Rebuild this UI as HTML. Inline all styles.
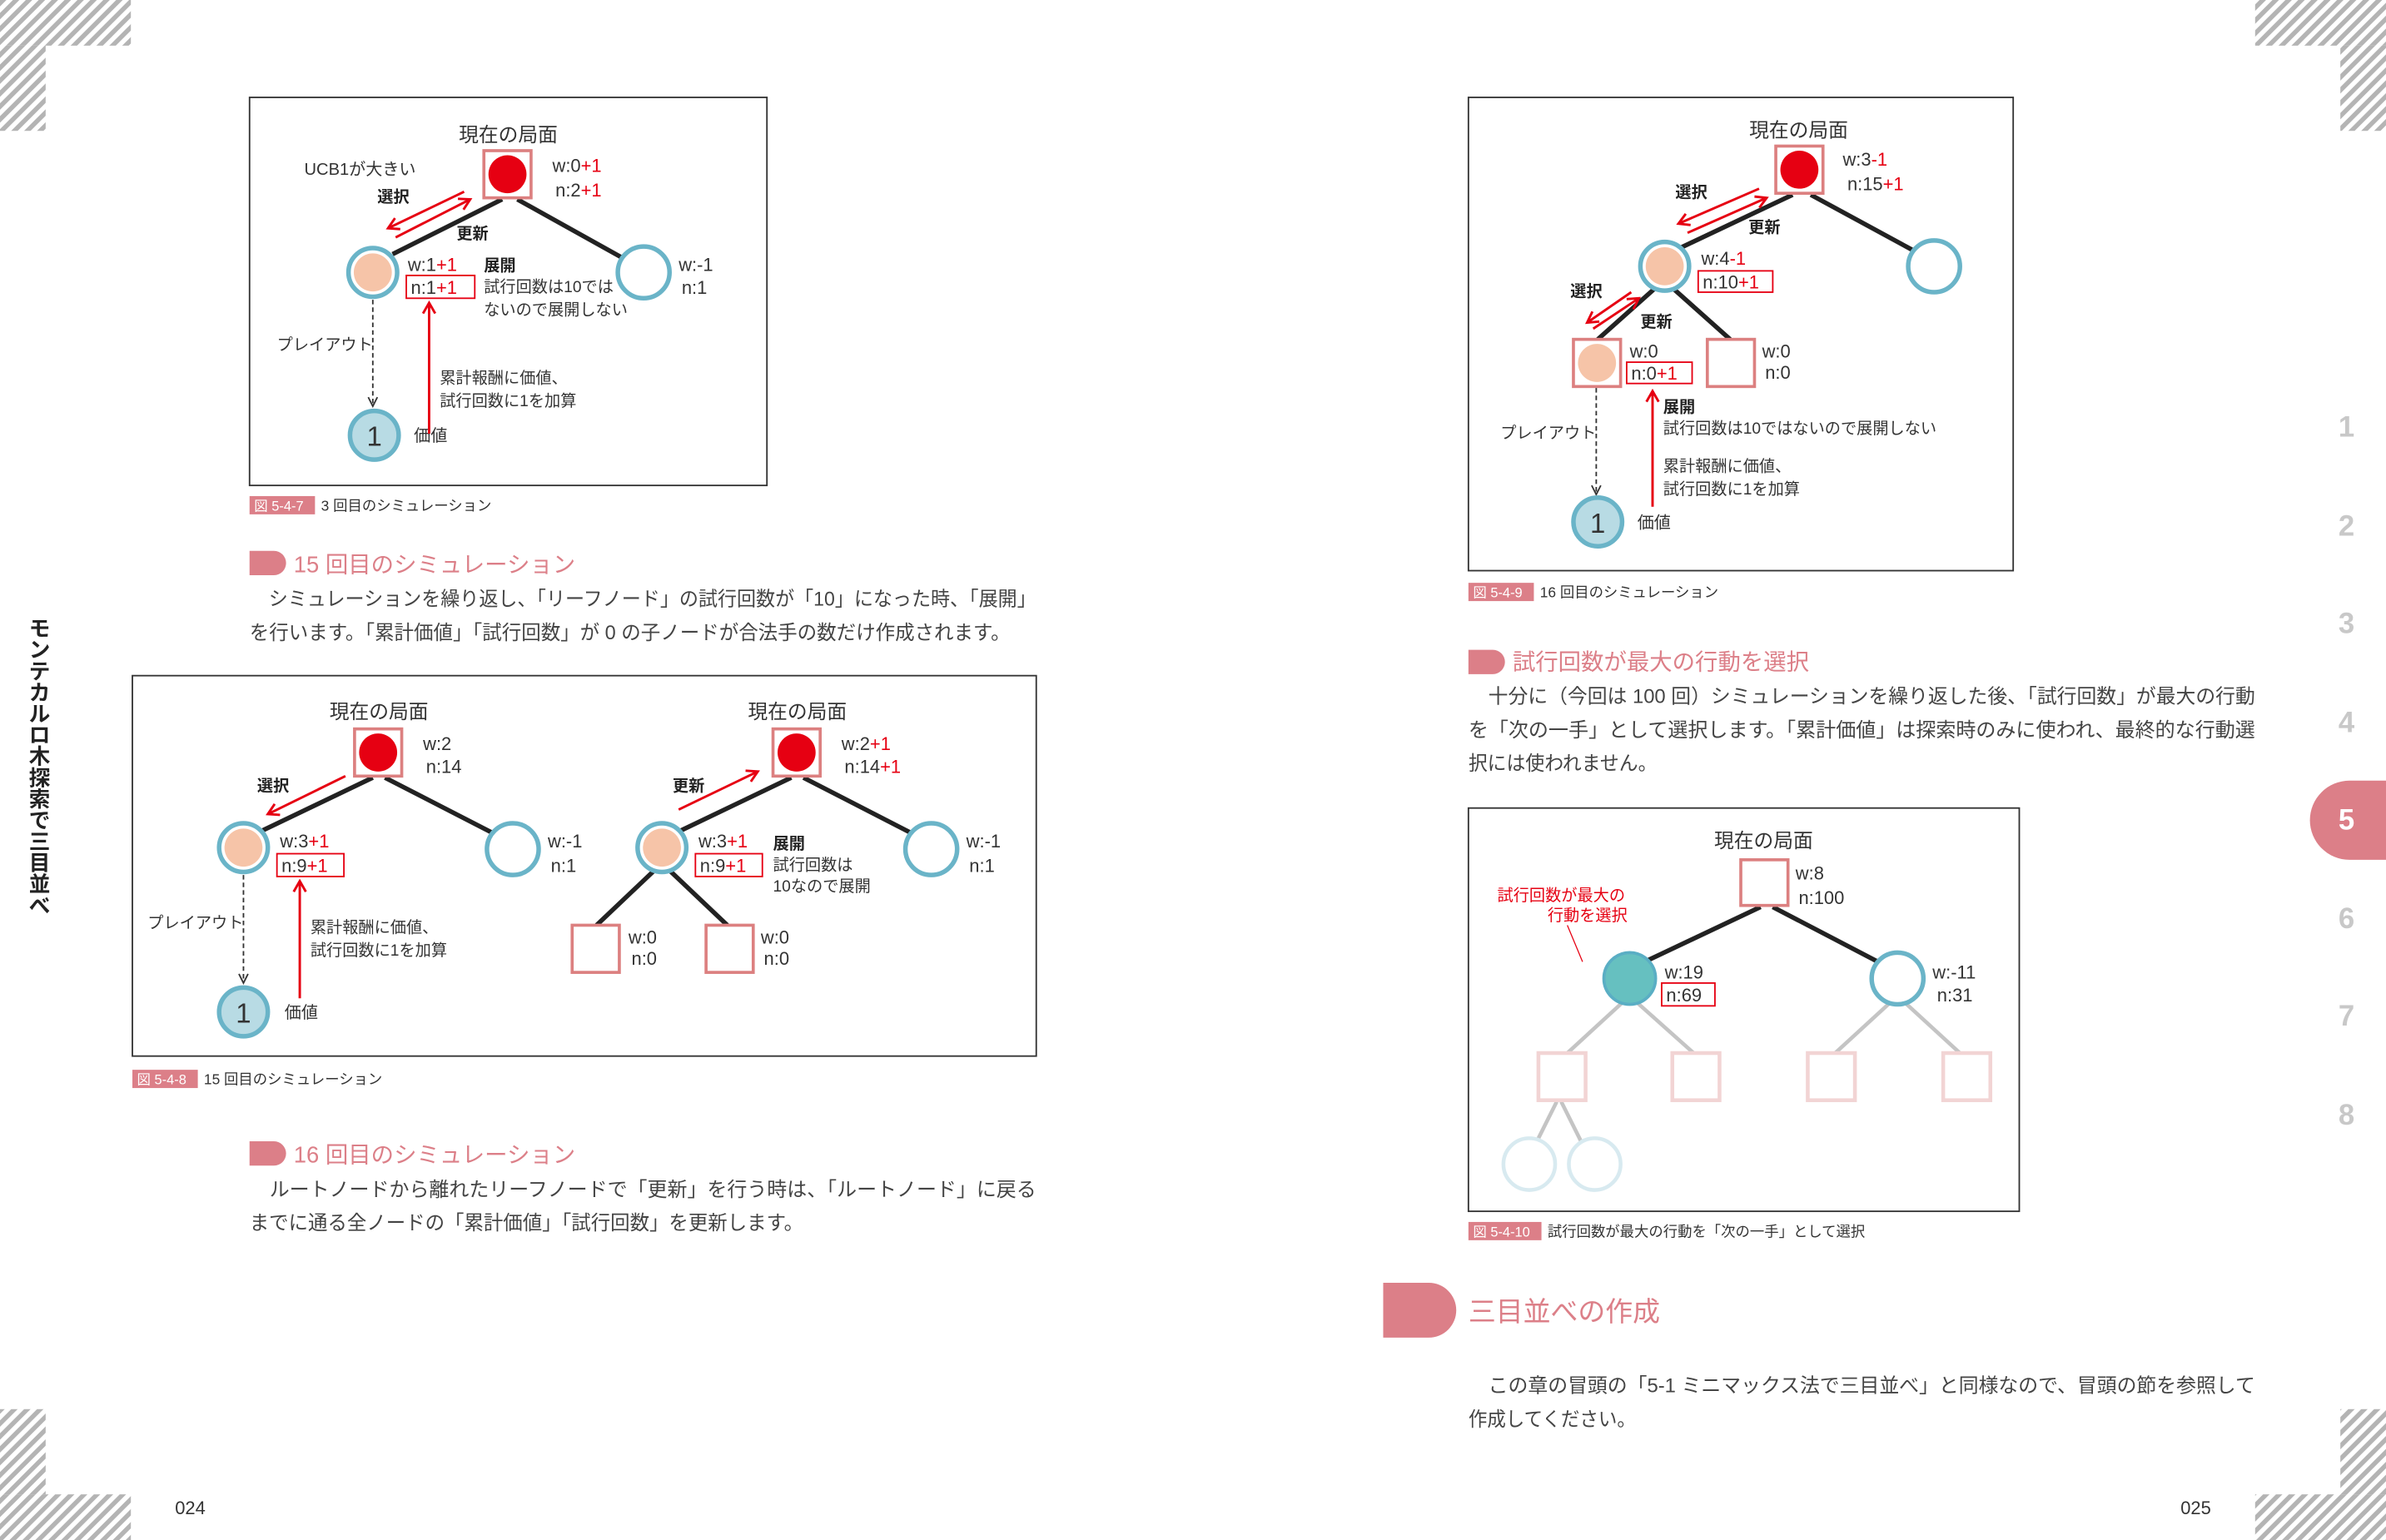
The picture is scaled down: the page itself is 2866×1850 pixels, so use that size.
<!DOCTYPE html>
<html><head><meta charset="utf-8"><style>
html,body{margin:0;padding:0;background:#fff}
svg{display:block}
text{font-family:"Liberation Sans","Noto Sans CJK JP",sans-serif;fill:#333}
.b{font-weight:bold;fill:#222}
.r{fill:#e60012}
.s{font-size:10.5px}
.t{font-size:12px}
.body{font-size:13px;fill:#444}
.cap{font-size:9.5px;fill:#333}
.capl{font-size:9px;fill:#fff}
.h{font-size:15px;fill:#dc7f88}
</style></head><body>
<svg width="2866" height="1850" viewBox="0 0 1568 1012" preserveAspectRatio="none" xmlns="http://www.w3.org/2000/svg">
<defs>
<pattern id="hp" width="6" height="6" patternUnits="userSpaceOnUse" patternTransform="rotate(-45)">
<rect width="6" height="3" fill="#b4b4b4"/></pattern>
<marker id="ar" markerWidth="10" markerHeight="10" refX="8" refY="5" orient="auto" markerUnits="userSpaceOnUse">
<path d="M1,1 L8,5 L1,9" fill="none" stroke="#e60012" stroke-width="1.6"/></marker>
<marker id="ak" markerWidth="10" markerHeight="10" refX="8" refY="5" orient="auto" markerUnits="userSpaceOnUse">
<path d="M2,2 L8,5 L2,8" fill="none" stroke="#333" stroke-width="1"/></marker>
</defs>
<g fill="url(#hp)">
<rect x="0" y="0" width="86" height="30"/><rect x="0" y="30" width="30" height="56"/>
<rect x="1482" y="0" width="86" height="30"/><rect x="1538" y="30" width="30" height="56"/>
<rect x="0" y="926" width="30" height="56"/><rect x="0" y="982" width="86" height="30"/>
<rect x="1538" y="926" width="30" height="56"/><rect x="1482" y="982" width="86" height="30"/>
</g>
<g font-size="14" text-anchor="middle">
<text x="26" y="418" class="b">モ</text><text x="26" y="432" class="b">ン</text>
<text x="26" y="446" class="b">テ</text><text x="26" y="460" class="b">カ</text><text x="26" y="474" class="b">ル</text>
<text x="26" y="488" class="b">ロ</text><text x="26" y="502" class="b">木</text><text x="26" y="516" class="b">探</text>
<text x="26" y="530" class="b">索</text><text x="26" y="544" class="b">で</text><text x="26" y="558" class="b">三</text>
<text x="26" y="572" class="b">目</text><text x="26" y="586" class="b">並</text><text x="26" y="600" class="b">べ</text>
</g>
<path d="M1544,513 H1568 V565 H1544 A26,26 0 0 1 1544,513 Z" fill="#dc7f88"/>
<g font-size="19" font-weight="bold" text-anchor="middle">
<text x="1542" y="287" style="fill:#c8c8c8">1</text><text x="1542" y="352" style="fill:#c8c8c8">2</text>
<text x="1542" y="416" style="fill:#c8c8c8">3</text><text x="1542" y="481" style="fill:#c8c8c8">4</text>
<text x="1542" y="545" style="fill:#fff">5</text><text x="1542" y="610" style="fill:#c8c8c8">6</text>
<text x="1542" y="674" style="fill:#c8c8c8">7</text><text x="1542" y="739" style="fill:#c8c8c8">8</text>
</g>
<text x="115" y="995" font-size="12">024</text>
<text x="1433" y="995" font-size="12">025</text>

<rect x="164" y="64" width="340" height="255" fill="none" stroke="#333" stroke-width="1"/>
<text x="334" y="93" font-size="13" text-anchor="middle">現在の局面</text>
<line x1="330" y1="131" x2="258" y2="167" stroke="#222" stroke-width="3"/>
<line x1="340" y1="131" x2="410" y2="170" stroke="#222" stroke-width="3"/>
<rect x="318" y="99" width="31" height="31" fill="#fff" stroke="#dc8080" stroke-width="2"/>
<circle cx="333.5" cy="114.5" r="12.5" fill="#e60012"/>
<text x="363" y="113" class="t">w:0<tspan class="r">+1</tspan></text>
<text x="365" y="129" class="t">n:2<tspan class="r">+1</tspan></text>
<text x="200" y="115" font-size="11">UCB1が大きい</text>
<text x="248" y="133" class="b s">選択</text>
<line x1="305" y1="126" x2="255" y2="150" stroke="#e60012" stroke-width="1.6" marker-end="url(#ar)"/>
<line x1="260" y1="156" x2="309" y2="131" stroke="#e60012" stroke-width="1.6" marker-end="url(#ar)"/>
<text x="300" y="157" class="b s">更新</text>
<circle cx="245" cy="179" r="16" fill="#fff" stroke="#6ab4c8" stroke-width="3"/>
<circle cx="245" cy="179" r="12.5" fill="#f6c4a8"/>
<text x="268" y="178" class="t">w:1<tspan class="r">+1</tspan></text>
<rect x="267" y="181" width="45" height="15" fill="none" stroke="#e60012" stroke-width="1"/>
<text x="270" y="193" class="t">n:1<tspan class="r">+1</tspan></text>
<text x="318" y="178" class="b s">展開</text>
<text x="318" y="192" class="s">試行回数は10では</text>
<text x="318" y="207" class="s">ないので展開しない</text>
<circle cx="423" cy="179" r="17" fill="#fff" stroke="#6ab4c8" stroke-width="3"/>
<text x="446" y="178" class="t">w:-1</text><text x="448" y="193" class="t">n:1</text>
<text x="182" y="230" font-size="10.5">プレイアウト</text>
<line x1="245" y1="197" x2="245" y2="267" stroke="#333" stroke-width="1" stroke-dasharray="3,2" marker-end="url(#ak)"/>
<circle cx="246" cy="286" r="16" fill="#b8dbe4" stroke="#6ab4c8" stroke-width="3"/>
<text x="246" y="293" font-size="18" text-anchor="middle">1</text>
<text x="272" y="290" font-size="11">価値</text>
<line x1="282" y1="285" x2="282" y2="199" stroke="#e60012" stroke-width="1.6" marker-end="url(#ar)"/>
<text x="289" y="252" class="s">累計報酬に価値、</text>
<text x="289" y="267" class="s">試行回数に1を加算</text>
<rect x="164" y="326" width="43" height="12" fill="#dc7f88"/>
<text x="167" y="335.5" class="capl">図 5-4-7</text>
<text x="211" y="335.5" class="cap">3 回目のシミュレーション</text>

<path d="M164,362 H180 A8,8 0 0 1 180,378 H164 Z" fill="#dc7f88"/>
<text x="193" y="376" class="h">15 回目のシミュレーション</text>
<text x="164" y="398" class="body" textLength="517" lengthAdjust="spacingAndGlyphs">　シミュレーションを繰り返し、「リーフノード」の試行回数が「10」になった時、「展開」</text>
<text x="164" y="420" class="body" textLength="500" lengthAdjust="spacingAndGlyphs">を行います。「累計価値」「試行回数」が 0 の子ノードが合法手の数だけ作成されます。</text>

<rect x="87" y="444" width="594" height="250" fill="none" stroke="#333" stroke-width="1"/>
<text x="249" y="472" font-size="13" text-anchor="middle">現在の局面</text>
<line x1="245" y1="511" x2="172" y2="546" stroke="#222" stroke-width="3"/>
<line x1="253" y1="511" x2="325" y2="548" stroke="#222" stroke-width="3"/>
<rect x="233" y="479" width="31" height="31" fill="#fff" stroke="#dc8080" stroke-width="2"/>
<circle cx="248.5" cy="494.5" r="12.5" fill="#e60012"/>
<text x="278" y="493" class="t">w:2</text><text x="280" y="508" class="t">n:14</text>
<text x="169" y="520" class="b s">選択</text>
<line x1="227" y1="510" x2="176" y2="535" stroke="#e60012" stroke-width="1.6" marker-end="url(#ar)"/>
<circle cx="160" cy="557" r="16" fill="#fff" stroke="#6ab4c8" stroke-width="3"/>
<circle cx="160" cy="557" r="12.5" fill="#f6c4a8"/>
<text x="184" y="557" class="t">w:3<tspan class="r">+1</tspan></text>
<rect x="182" y="561" width="44" height="15" fill="none" stroke="#e60012" stroke-width="1"/>
<text x="185" y="573" class="t">n:9<tspan class="r">+1</tspan></text>
<circle cx="337" cy="558" r="17" fill="#fff" stroke="#6ab4c8" stroke-width="3"/>
<text x="360" y="557" class="t">w:-1</text><text x="362" y="573" class="t">n:1</text>
<text x="97" y="610" font-size="10.5">プレイアウト</text>
<line x1="160" y1="575" x2="160" y2="646" stroke="#333" stroke-width="1" stroke-dasharray="3,2" marker-end="url(#ak)"/>
<circle cx="160" cy="665" r="16" fill="#b8dbe4" stroke="#6ab4c8" stroke-width="3"/>
<text x="160" y="672" font-size="18" text-anchor="middle">1</text>
<text x="187" y="669" font-size="11">価値</text>
<line x1="197" y1="656" x2="197" y2="579" stroke="#e60012" stroke-width="1.6" marker-end="url(#ar)"/>
<text x="204" y="613" class="s">累計報酬に価値、</text>
<text x="204" y="628" class="s">試行回数に1を加算</text>
<text x="524" y="472" font-size="13" text-anchor="middle">現在の局面</text>
<line x1="520" y1="511" x2="447" y2="546" stroke="#222" stroke-width="3"/>
<line x1="528" y1="511" x2="600" y2="548" stroke="#222" stroke-width="3"/>
<rect x="508" y="479" width="31" height="31" fill="#fff" stroke="#dc8080" stroke-width="2"/>
<circle cx="523.5" cy="494.5" r="12.5" fill="#e60012"/>
<text x="553" y="493" class="t">w:2<tspan class="r">+1</tspan></text>
<text x="555" y="508" class="t">n:14<tspan class="r">+1</tspan></text>
<text x="442" y="520" class="b s">更新</text>
<line x1="446" y1="532" x2="498" y2="507" stroke="#e60012" stroke-width="1.6" marker-end="url(#ar)"/>
<line x1="430" y1="572" x2="392" y2="608" stroke="#222" stroke-width="3"/>
<line x1="440" y1="572" x2="478" y2="608" stroke="#222" stroke-width="3"/>
<circle cx="435" cy="557" r="16" fill="#fff" stroke="#6ab4c8" stroke-width="3"/>
<circle cx="435" cy="557" r="12.5" fill="#f6c4a8"/>
<text x="459" y="557" class="t">w:3<tspan class="r">+1</tspan></text>
<rect x="457" y="561" width="44" height="15" fill="none" stroke="#e60012" stroke-width="1"/>
<text x="460" y="573" class="t">n:9<tspan class="r">+1</tspan></text>
<text x="508" y="558" class="b s">展開</text>
<text x="508" y="572" class="s">試行回数は</text>
<text x="508" y="586" class="s">10なので展開</text>
<circle cx="612" cy="558" r="17" fill="#fff" stroke="#6ab4c8" stroke-width="3"/>
<text x="635" y="557" class="t">w:-1</text><text x="637" y="573" class="t">n:1</text>
<rect x="376" y="608" width="31" height="31" fill="#fff" stroke="#dc8080" stroke-width="2"/>
<rect x="464" y="608" width="31" height="31" fill="#fff" stroke="#dc8080" stroke-width="2"/>
<text x="413" y="620" class="t">w:0</text><text x="415" y="634" class="t">n:0</text>
<text x="500" y="620" class="t">w:0</text><text x="502" y="634" class="t">n:0</text>
<rect x="87" y="703" width="43" height="12" fill="#dc7f88"/>
<text x="90" y="712.5" class="capl">図 5-4-8</text>
<text x="134" y="712.5" class="cap">15 回目のシミュレーション</text>

<path d="M164,750 H180 A8,8 0 0 1 180,766 H164 Z" fill="#dc7f88"/>
<text x="193" y="764" class="h">16 回目のシミュレーション</text>
<text x="164" y="786" class="body" textLength="517" lengthAdjust="spacingAndGlyphs">　ルートノードから離れたリーフノードで「更新」を行う時は、「ルートノード」に戻る</text>
<text x="164" y="808" class="body" textLength="364" lengthAdjust="spacingAndGlyphs">までに通る全ノードの「累計価値」「試行回数」を更新します。</text>

<rect x="965" y="64" width="358" height="311" fill="none" stroke="#333" stroke-width="1"/>
<text x="1182" y="90" font-size="13" text-anchor="middle">現在の局面</text>
<line x1="1178" y1="128" x2="1104" y2="163" stroke="#222" stroke-width="3"/>
<line x1="1190" y1="128" x2="1260" y2="166" stroke="#222" stroke-width="3"/>
<rect x="1167" y="96" width="31" height="31" fill="#fff" stroke="#dc8080" stroke-width="2"/>
<circle cx="1182.5" cy="111.5" r="12.5" fill="#e60012"/>
<text x="1211" y="109" class="t">w:3<tspan class="r">-1</tspan></text>
<text x="1214" y="125" class="t">n:15<tspan class="r">+1</tspan></text>
<text x="1101" y="130" class="b s">選択</text>
<text x="1149" y="153" class="b s">更新</text>
<line x1="1156" y1="124" x2="1103" y2="147" stroke="#e60012" stroke-width="1.6" marker-end="url(#ar)"/>
<line x1="1109" y1="153" x2="1161" y2="130" stroke="#e60012" stroke-width="1.6" marker-end="url(#ar)"/>
<line x1="1087" y1="190" x2="1050" y2="223" stroke="#222" stroke-width="3"/>
<line x1="1100" y1="190" x2="1137" y2="223" stroke="#222" stroke-width="3"/>
<circle cx="1094" cy="175" r="16" fill="#fff" stroke="#6ab4c8" stroke-width="3"/>
<circle cx="1094" cy="175" r="12.5" fill="#f6c4a8"/>
<text x="1118" y="174" class="t">w:4<tspan class="r">-1</tspan></text>
<rect x="1116" y="178" width="49" height="14" fill="none" stroke="#e60012" stroke-width="1"/>
<text x="1119" y="189.5" class="t">n:10<tspan class="r">+1</tspan></text>
<circle cx="1271" cy="175" r="17" fill="#fff" stroke="#6ab4c8" stroke-width="3"/>
<text x="1032" y="195" class="b s">選択</text>
<text x="1078" y="215" class="b s">更新</text>
<line x1="1072" y1="192" x2="1043" y2="212" stroke="#e60012" stroke-width="1.6" marker-end="url(#ar)"/>
<line x1="1047" y1="216" x2="1077" y2="196" stroke="#e60012" stroke-width="1.6" marker-end="url(#ar)"/>
<rect x="1034" y="223" width="31" height="31" fill="#fff" stroke="#dc8080" stroke-width="2"/>
<circle cx="1049.5" cy="238.5" r="12.5" fill="#f6c4a8"/>
<text x="1071" y="235" class="t">w:0</text>
<rect x="1069" y="238" width="43" height="14" fill="none" stroke="#e60012" stroke-width="1"/>
<text x="1072" y="249.5" class="t">n:0<tspan class="r">+1</tspan></text>
<rect x="1122" y="223" width="31" height="31" fill="#fff" stroke="#dc8080" stroke-width="2"/>
<text x="1158" y="235" class="t">w:0</text><text x="1160" y="249" class="t">n:0</text>
<line x1="1086" y1="333" x2="1086" y2="257" stroke="#e60012" stroke-width="1.6" marker-end="url(#ar)"/>
<text x="1093" y="271" class="b s">展開</text>
<text x="1093" y="285" class="s">試行回数は10ではないので展開しない</text>
<text x="1093" y="310" class="s">累計報酬に価値、</text>
<text x="1093" y="325" class="s">試行回数に1を加算</text>
<text x="986" y="288" font-size="10.5">プレイアウト</text>
<line x1="1049" y1="255" x2="1049" y2="325" stroke="#333" stroke-width="1" stroke-dasharray="3,2" marker-end="url(#ak)"/>
<circle cx="1050" cy="343" r="16" fill="#b8dbe4" stroke="#6ab4c8" stroke-width="3"/>
<text x="1050" y="350" font-size="18" text-anchor="middle">1</text>
<text x="1076" y="347" font-size="11">価値</text>
<rect x="965" y="383" width="43" height="12" fill="#dc7f88"/>
<text x="968" y="392.5" class="capl">図 5-4-9</text>
<text x="1012" y="392.5" class="cap">16 回目のシミュレーション</text>

<path d="M965,427 H981 A8,8 0 0 1 981,443 H965 Z" fill="#dc7f88"/>
<text x="994" y="440" class="h">試行回数が最大の行動を選択</text>
<text x="965" y="462" class="body" textLength="517" lengthAdjust="spacingAndGlyphs">　十分に（今回は 100 回）シミュレーションを繰り返した後、「試行回数」が最大の行動</text>
<text x="965" y="484" class="body" textLength="517" lengthAdjust="spacingAndGlyphs">を「次の一手」として選択します。「累計価値」は探索時のみに使われ、最終的な行動選</text>
<text x="965" y="506" class="body" textLength="124" lengthAdjust="spacingAndGlyphs">択には使われません。</text>

<rect x="965" y="531" width="362" height="265" fill="none" stroke="#333" stroke-width="1"/>
<text x="1159" y="557" font-size="13" text-anchor="middle">現在の局面</text>
<line x1="1157" y1="596" x2="1083" y2="631" stroke="#222" stroke-width="3"/>
<line x1="1165" y1="596" x2="1236" y2="633" stroke="#222" stroke-width="3"/>
<rect x="1144" y="565" width="31" height="30" fill="#fff" stroke="#dc8080" stroke-width="2"/>
<text x="1180" y="578" class="t">w:8</text><text x="1182" y="594" class="t">n:100</text>
<text x="984" y="592" font-size="10.5" class="r">試行回数が最大の</text>
<text x="1017" y="605" font-size="10.5" class="r">行動を選択</text>
<line x1="1030" y1="608" x2="1040" y2="632" stroke="#e60012" stroke-width="0.7"/>
<g stroke="#c4c4c4" stroke-width="2.5">
<line x1="1066" y1="659" x2="1030" y2="692"/><line x1="1076" y1="659" x2="1113" y2="692"/>
<line x1="1242" y1="659" x2="1206" y2="692"/><line x1="1252" y1="659" x2="1288" y2="692"/>
<line x1="1023" y1="724" x2="1010" y2="750"/><line x1="1026" y1="724" x2="1039" y2="750"/>
</g>
<circle cx="1071" cy="643" r="17" fill="#66c0c0" stroke="#5aaec4" stroke-width="2"/>
<text x="1094" y="643" class="t">w:19</text>
<rect x="1092" y="646" width="35" height="15" fill="none" stroke="#e60012" stroke-width="1"/>
<text x="1095" y="658" class="t">n:69</text>
<circle cx="1247" cy="643" r="17" fill="#fff" stroke="#6ab4c8" stroke-width="3"/>
<text x="1270" y="643" class="t">w:-11</text><text x="1273" y="658" class="t">n:31</text>
<g fill="#fff" stroke="#f2d4d4" stroke-width="2.5">
<rect x="1011" y="692" width="31" height="31"/><rect x="1099" y="692" width="31" height="31"/>
<rect x="1188" y="692" width="31" height="31"/><rect x="1277" y="692" width="31" height="31"/>
</g>
<circle cx="1005" cy="765" r="17" fill="#fff" stroke="#d8eaf0" stroke-width="2.5"/>
<circle cx="1048" cy="765" r="17" fill="#fff" stroke="#d8eaf0" stroke-width="2.5"/>
<rect x="965" y="803" width="48" height="12" fill="#dc7f88"/>
<text x="968" y="812.5" class="capl">図 5-4-10</text>
<text x="1017" y="812.5" class="cap">試行回数が最大の行動を「次の一手」として選択</text>

<path d="M909,843 H939 A18,18 0 0 1 939,879 H909 Z" fill="#dc7f88"/>
<text x="965" y="868" font-size="18" style="fill:#dc7f88">三目並べの作成</text>
<text x="965" y="915" class="body" textLength="517" lengthAdjust="spacingAndGlyphs">　この章の冒頭の「5-1 ミニマックス法で三目並べ」と同様なので、冒頭の節を参照して</text>
<text x="965" y="937" class="body" textLength="110" lengthAdjust="spacingAndGlyphs">作成してください。</text>
</svg>
</body></html>
